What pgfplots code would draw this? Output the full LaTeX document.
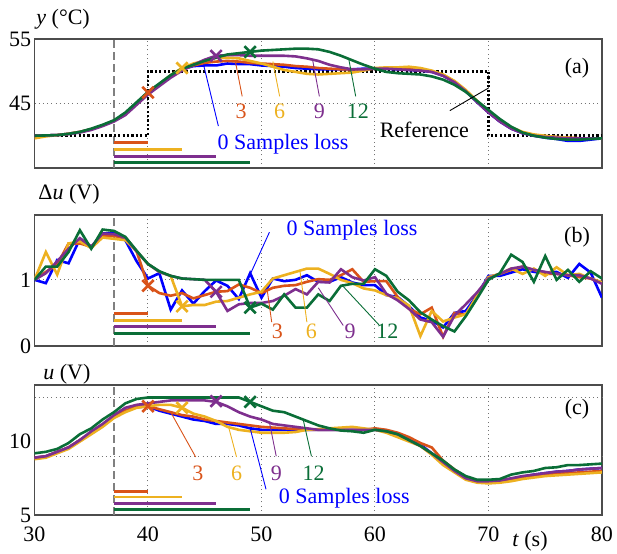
\documentclass[border=0pt]{standalone}
\usepackage{fontspec}
\setmainfont{Liberation Serif}
\usepackage{pgfplots}
\usepackage{pgfplotstable}
\pgfplotsset{compat=1.18}

\definecolor{cblue}{RGB}{0,0,255}
\definecolor{corange}{RGB}{217,83,25}
\definecolor{cyellow}{RGB}{237,177,32}
\definecolor{cpurple}{RGB}{126,47,142}
\definecolor{cgreen}{RGB}{10,110,55}

% temperature y (degC), one column per case (0,3,6,9,12 samples lost)
\pgfplotstableread{
t  b     o     yl    p     g
30 40.0  40.0  39.6  40.0  40.0
31 40.05 40.05 39.9  40.05 40.05
32 40.1  40.1  40.1  40.1  40.1
33 40.3  40.3  40.3  40.25 40.3
34 40.6  40.6  40.6  40.5  40.6
35 41.0  41.0  41.0  40.9  41.1
36 41.6  41.6  41.6  41.5  41.7
37 42.3  42.3  42.3  42.2  42.4
38 43.4  43.4  43.4  43.2  43.6
39 45.0  45.0  45.0  44.8  45.2
40 46.7  46.7  46.7  46.4  46.8
41 48.0  48.0  48.0  47.7  48.1
42 49.3  49.3  49.4  49.0  49.4
43 50.3  50.3  50.5  50.1  50.4
44 50.8  50.9  51.2  51.0  51.0
45 50.9  51.3  51.6  51.8  51.6
46 50.9  51.5  52.1  52.4  52.1
47 51.2  51.6  52.1  52.5  52.6
48 51.1  51.5  52.0  52.5  52.8
49 51.1  51.3  51.6  52.4  53.0
50 50.9  51.2  51.2  52.4  53.2
51 50.8  51.1  50.7  52.4  53.3
52 50.7  51.0  50.2  52.4  53.4
53 50.5  50.8  49.9  52.3  53.5
54 50.4  50.7  49.6  52.0  53.5
55 50.3  50.5  49.5  51.6  53.4
56 50.3  50.4  49.6  51.0  53.0
57 50.3  50.3  49.7  50.6  52.4
58 50.3  50.3  49.8  50.3  51.7
59 50.4  50.3  50.1  50.3  51.0
60 50.4  50.4  50.5  50.4  50.4
61 50.4  50.4  50.6  50.4  49.9
62 50.3  50.4  50.6  50.3  49.7
63 50.2  50.3  50.7  50.2  49.6
64 50.1  50.2  50.5  50.1  49.5
65 49.9  50.0  50.1  49.9  49.2
66 49.3  49.4  49.5  49.3  48.7
67 48.3  48.4  48.5  48.3  47.9
68 46.9  47.0  47.1  46.9  46.8
69 45.2  45.3  45.4  45.2  45.4
70 43.6  43.7  43.8  43.6  44.0
71 42.2  42.3  42.4  42.2  42.6
72 41.1  41.2  41.3  41.1  41.4
73 40.4  40.5  40.6  40.4  40.5
74 40.0  40.1  40.2  40.0  40.0
75 39.7  39.9  40.0  39.8  39.7
76 39.5  39.8  39.8  39.7  39.5
77 39.2  39.7  39.7  39.6  39.4
78 39.2  39.6  39.6  39.6  39.4
79 39.4  39.6  39.6  39.6  39.5
80 39.6  39.6  39.6  39.6  39.6
}\tabY

% control increment du (V)
\pgfplotstableread{
t  b    o    yl   p    g
30 1.00 1.00 1.00 1.00 1.00
31 0.95 1.12 1.42 1.10 1.20
32 1.30 1.23 1.08 1.28 1.20
33 1.25 1.55 1.55 1.47 1.42
34 1.62 1.55 1.58 1.63 1.75
35 1.50 1.50 1.48 1.50 1.47
36 1.70 1.67 1.64 1.70 1.76
37 1.71 1.66 1.62 1.69 1.74
38 1.60 1.64 1.60 1.64 1.65
39 1.28 1.43 1.43 1.43 1.44
40 1.02 0.91 1.24 1.24 1.24
41 1.10 0.80 1.12 1.12 1.13
42 0.55 0.76 1.06 1.06 1.06
43 0.84 0.80 0.60 1.02 1.02
44 0.64 0.72 0.62 1.01 1.01
45 0.83 0.77 0.62 1.00 1.00
46 0.99 0.82 0.67 0.82 1.00
47 0.91 0.83 0.68 0.53 1.00
48 0.71 0.93 0.73 0.63 1.00
49 1.10 0.88 0.78 0.65 0.58
50 0.73 0.80 0.82 0.65 0.64
51 1.02 0.88 1.02 0.68 0.55
52 0.98 0.91 1.07 0.76 0.78
53 1.00 0.92 1.12 0.86 0.58
54 1.07 0.97 1.17 0.78 0.58
55 0.97 1.01 1.17 0.97 0.78
56 0.97 1.00 1.09 0.96 0.68
57 1.04 1.07 1.00 1.16 0.91
58 0.96 1.16 0.95 1.04 0.94
59 0.92 0.97 0.87 0.99 0.94
60 0.92 0.98 0.84 1.04 1.16
61 0.77 0.98 0.77 0.79 1.06
62 0.74 0.74 0.72 0.69 0.82
63 0.60 0.56 0.61 0.56 0.69
64 0.43 0.48 0.15 0.40 0.51
65 0.38 0.58 0.53 0.36 0.40
66 0.28 0.14 0.37 0.14 0.30
67 0.50 0.50 0.43 0.46 0.22
68 0.53 0.47 0.48 0.63 0.45
69 0.77 0.76 0.76 0.81 0.72
70 1.06 1.04 1.04 1.02 1.00
71 1.06 1.09 1.09 1.09 1.10
72 1.11 1.15 1.17 1.17 1.38
73 1.16 1.20 1.09 1.20 1.27
74 1.12 1.15 1.17 1.15 0.97
75 1.11 1.09 1.06 1.12 1.36
76 1.12 1.09 1.19 1.09 1.00
77 1.03 1.07 1.07 1.07 1.15
78 1.24 1.04 1.09 1.07 0.97
79 1.11 1.02 1.02 1.02 1.13
80 0.73 0.96 0.96 0.94 1.02
}\tabDU

% control u (V)
\pgfplotstableread{
t  b     o     yl    p     g
30 8.9   8.9   8.8   8.9   9.2
31 9.0   9.0   8.9   9.0   9.3
32 9.3   9.3   9.2   9.3   9.5
33 9.6   9.6   9.5   9.6   9.9
34 10.1  10.1  10.0  10.1  10.5
35 10.6  10.6  10.5  10.7  10.9
36 11.1  11.1  11.0  11.2  11.5
37 11.7  11.7  11.6  11.8  12.0
38 12.1  12.1  12.0  12.3  12.6
39 12.35 12.35 12.3  12.5  12.9
40 12.4  12.4  12.4  12.6  13.0
41 12.1  12.2  12.5  12.7  13.0
42 11.9  12.0  12.5  12.8  13.0
43 11.7  11.8  12.3  12.8  13.0
44 11.5  11.7  11.9  12.8  13.0
45 11.4  11.5  11.7  12.8  13.0
46 11.2  11.4  11.4  12.7  13.0
47 11.2  11.3  11.0  12.4  13.0
48 11.1  11.2  10.8  12.0  13.0
49 10.9  11.1  10.7  11.7  12.7
50 10.8  11.0  10.6  11.5  12.4
51 10.8  10.95 10.6  11.2  12.1
52 10.8  10.9  10.6  11.1  12.0
53 10.8  10.85 10.65 11.0  11.7
54 10.8  10.8  10.8  10.9  11.4
55 10.8  10.8  10.85 10.8  11.1
56 10.8  10.8  10.9  10.8  10.9
57 10.8  10.8  10.95 10.8  10.75
58 10.8  10.8  11.0  10.8  10.7
59 10.8  10.8  10.9  10.8  10.6
60 10.8  10.9  10.8  10.8  10.8
61 10.7  10.8  10.6  10.7  10.7
62 10.5  10.6  10.3  10.5  10.5
63 10.1  10.3  10.0  10.1  10.1
64 9.8   9.9   9.7   9.7   9.7
65 9.2   9.6   9.1   9.2   9.2
66 8.6   8.7   8.4   8.6   8.7
67 8.0   8.1   7.9   8.0   8.1
68 7.5   7.55  7.4   7.5   7.65
69 7.3   7.3   7.2   7.3   7.4
70 7.25  7.25  7.15  7.3   7.4
71 7.3   7.3   7.2   7.35  7.45
72 7.45  7.45  7.3   7.5   7.75
73 7.6   7.55  7.45  7.65  7.9
74 7.75  7.65  7.55  7.75  8.0
75 7.85  7.75  7.65  7.85  8.2
76 7.95  7.8   7.7   7.95  8.25
77 8.0   7.85  7.75  8.0   8.4
78 8.1   7.9   7.8   8.1   8.4
79 8.15  7.95  7.85  8.15  8.45
80 8.2   8.0   7.9   8.2   8.5
}\tabU

\pgfplotsset{
  panel/.style={
    anchor=south west, scale only axis,
    width=283.75pt,
    xmin=30, xmax=80,
    xtick={30,40,50,60,70,80},
    xmajorgrids,
    grid style={dash pattern=on 0.5pt off 1.6pt, black!55, line width=0.5pt},
    major tick length=0pt,
    axis line style={black!70, line width=0.6pt},
    tick label style={font=\fontsize{11}{13}\selectfont},
    yticklabel style={xshift=1.8pt},
    /pgf/number format/assume math mode=true,
    every axis plot/.append style={line width=1.3pt},
  },
  lossmark/.style={only marks, mark=x, mark size=4pt, line width=1.3pt, mark options={solid}},
  holdbar/.style={line width=1.4pt},
  tzero/.style={black!50, line width=0.6pt, dash pattern=on 4pt off 2pt},
}
\tikzset{ptr/.style={line width=0.45pt}}

\begin{document}
\begin{tikzpicture}[font=\fontsize{11}{13}\selectfont]

% (a) temperature
\begin{axis}[panel, at={(17.25pt,192.5pt)}, height=64.5pt,
  ymin=35, ymax=55, ytick={45,55}, ymajorgrids, xticklabels={}]
  \addplot[tzero] coordinates {(37,35) (37,55)};
  \addplot[black, line width=1.3pt, dash pattern=on 1.1pt off 1.1pt] coordinates {(30,40) (40,40) (40,50) (70,50) (70,40) (80,40)};
  \addplot[cblue] table[x=t,y=b] {\tabY};
  \addplot[corange] table[x=t,y=o] {\tabY};
  \addplot[cyellow] table[x=t,y=yl] {\tabY};
  \addplot[cpurple] table[x=t,y=p] {\tabY};
  \addplot[cgreen] table[x=t,y=g] {\tabY};
  \addplot[corange, lossmark] coordinates {(40,46.7)};
  \addplot[cyellow, lossmark] coordinates {(43,50.5)};
  \addplot[cpurple, lossmark] coordinates {(46,52.4)};
  \addplot[cgreen, lossmark] coordinates {(49,53.0)};
  \addplot[corange, holdbar] coordinates {(37,38.9) (40,38.9)};
  \addplot[cyellow, holdbar] coordinates {(37,37.85) (43,37.85)};
  \addplot[cpurple, holdbar] coordinates {(37,36.8) (46,36.8)};
  \addplot[cgreen, holdbar] coordinates {(37,35.9) (49,35.9)};
  \draw[cblue, ptr] (axis cs:46.2,41.5) -- (axis cs:44.9,51.0);
  \draw[corange, ptr] (axis cs:48.3,46.1) -- (axis cs:47.7,51.5);
  \draw[cyellow, ptr] (axis cs:51.6,46.1) -- (axis cs:51.0,51.5);
  \draw[cpurple, ptr] (axis cs:55.1,46.1) -- (axis cs:54.5,51.8);
  \draw[cgreen, ptr] (axis cs:58.3,46.1) -- (axis cs:57.7,51.8);
  \draw[black, ptr] (axis cs:66.6,43.9) -- (axis cs:70.0,47.4);
  \node[corange] at (axis cs:48.2,43.8) {3};
  \node[cyellow] at (axis cs:51.6,43.8) {6};
  \node[cpurple] at (axis cs:55.1,43.8) {9};
  \node[cgreen] at (axis cs:58.5,43.8) {12};
  \node[cblue] at (axis cs:51.9,38.7) {0 Samples loss};
  \node[black] at (axis cs:64.35,40.9) {Reference};
  \node at (axis cs:77.8,50.5) {(a)};
\end{axis}

% (b) control increment
\begin{axis}[panel, at={(17.25pt,103.5pt)}, height=65.5pt,
  ymin=0, ymax=1.98, ytick={0,1}, ymajorgrids, xticklabels={}]
  \addplot[tzero] coordinates {(37,0) (37,1.98)};
  \addplot[cblue] table[x=t,y=b] {\tabDU};
  \addplot[corange] table[x=t,y=o] {\tabDU};
  \addplot[cyellow] table[x=t,y=yl] {\tabDU};
  \addplot[cpurple] table[x=t,y=p] {\tabDU};
  \addplot[cgreen] table[x=t,y=g] {\tabDU};
  \addplot[corange, lossmark] coordinates {(40,0.91)};
  \addplot[cyellow, lossmark] coordinates {(43,0.60)};
  \addplot[cpurple, lossmark] coordinates {(46,0.82)};
  \addplot[cgreen, lossmark] coordinates {(49,0.58)};
  \addplot[corange, holdbar] coordinates {(37,0.495) (40,0.495)};
  \addplot[cyellow, holdbar] coordinates {(37,0.39) (43,0.39)};
  \addplot[cpurple, holdbar] coordinates {(37,0.30) (46,0.30)};
  \addplot[cgreen, holdbar] coordinates {(37,0.19) (49,0.19)};
  \draw[cblue, ptr] (axis cs:50.7,1.72) -- (axis cs:49.0,1.08);
  \draw[corange, ptr] (axis cs:50.9,0.36) -- (axis cs:50.5,0.85);
  \draw[cyellow, ptr] (axis cs:54.0,0.36) -- (axis cs:53.4,1.12);
  \draw[cpurple, ptr] (axis cs:57.2,0.31) -- (axis cs:55.0,0.88);
  \draw[cgreen, ptr] (axis cs:60.4,0.31) -- (axis cs:57.2,0.90);
  \node[cblue, anchor=west] at (axis cs:51.6,1.75) {0 Samples loss};
  \node[corange] at (axis cs:51.4,0.22) {3};
  \node[cyellow] at (axis cs:54.4,0.22) {6};
  \node[cpurple] at (axis cs:57.8,0.22) {9};
  \node[cgreen] at (axis cs:61.1,0.22) {12};
  \node at (axis cs:77.8,1.65) {(b)};
\end{axis}

% (c) control signal
\begin{axis}[panel, at={(17.25pt,19pt)}, height=65pt,
  ymin=5, ymax=13.85, ytick={5,10},
  extra y ticks={9,13}, extra y tick labels={}, extra y tick style={grid=major},
  xticklabel style={yshift=-2.5pt}]
  \addplot[tzero] coordinates {(37,5) (37,13.85)};
  \addplot[cblue] table[x=t,y=b] {\tabU};
  \addplot[corange] table[x=t,y=o] {\tabU};
  \addplot[cyellow] table[x=t,y=yl] {\tabU};
  \addplot[cpurple] table[x=t,y=p] {\tabU};
  \addplot[cgreen] table[x=t,y=g] {\tabU};
  \addplot[corange, lossmark] coordinates {(40,12.4)};
  \addplot[cyellow, lossmark] coordinates {(43,12.3)};
  \addplot[cpurple, lossmark] coordinates {(46,12.75)};
  \addplot[cgreen, lossmark] coordinates {(49,12.7)};
  \addplot[corange, holdbar] coordinates {(37,6.59) (40,6.59)};
  \addplot[cyellow, holdbar] coordinates {(37,6.23) (43,6.23)};
  \addplot[cpurple, holdbar] coordinates {(37,5.77) (46,5.77)};
  \addplot[cgreen, holdbar] coordinates {(37,5.39) (49,5.39)};
  \draw[corange, ptr] (axis cs:44.2,8.95) -- (axis cs:42.0,12.0);
  \draw[cyellow, ptr] (axis cs:47.8,8.95) -- (axis cs:47.1,11.0);
  \draw[cpurple, ptr] (axis cs:51.3,9.0) -- (axis cs:50.7,11.3);
  \draw[cgreen, ptr] (axis cs:54.4,9.0) -- (axis cs:53.7,11.4);
  \draw[cblue, ptr] (axis cs:50.4,6.75) -- (axis cs:49.0,10.9);
  \node[corange] at (axis cs:44.4,7.85) {3};
  \node[cyellow] at (axis cs:47.8,7.85) {6};
  \node[cpurple] at (axis cs:51.3,7.85) {9};
  \node[cgreen] at (axis cs:54.6,7.85) {12};
  \node[cblue] at (axis cs:57.3,6.15) {0 Samples loss};
  \node at (axis cs:77.8,12.2) {(c)};
\end{axis}

% axis titles
\node[anchor=base west, inner sep=0] at (18pt,264pt) {\textit{y} (°C)};
\node[anchor=base west, inner sep=0] at (19pt,176.5pt) {Δ\textit{u} (V)};
\node[anchor=base west, inner sep=0] at (21.5pt,87pt) {\textit{u} (V)};
\node[anchor=south, inner sep=0] at (265pt,0.6pt) {\textit{t} (s)};

\pgfresetboundingbox
\path[use as bounding box] (0,0) rectangle (308.5pt,276.5pt);
\end{tikzpicture}
\end{document}
